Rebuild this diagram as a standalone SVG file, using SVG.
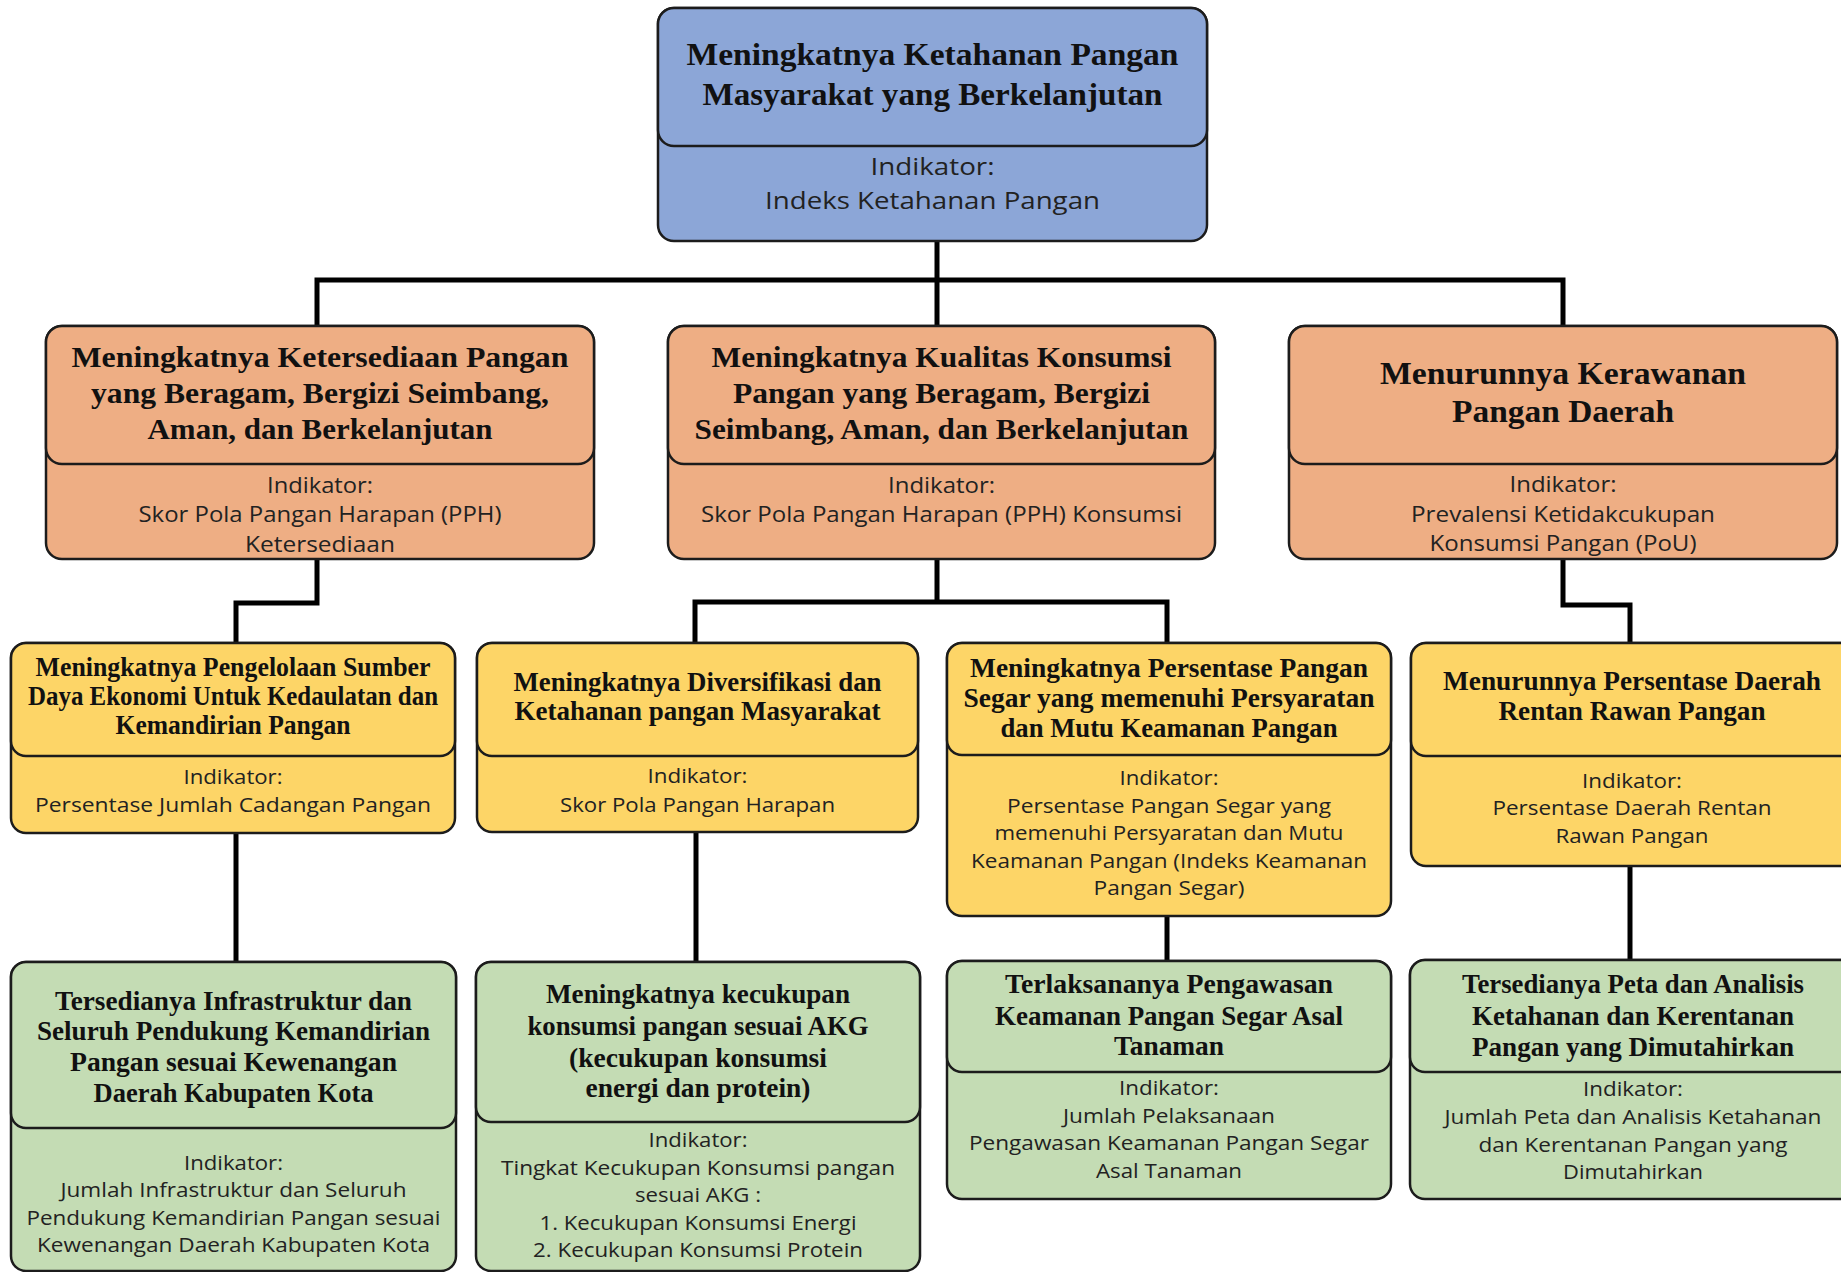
<svg xmlns="http://www.w3.org/2000/svg" width="1841" height="1272" viewBox="0 0 1841 1272">
<style>
.bg{fill:#ffffff}
.box{stroke:#1c1c1c;stroke-width:2.5}
.blue{fill:#8CA6D7}
.orange{fill:#EEAE84}
.yellow{fill:#FDD567}
.green{fill:#C4DCB4}
.t{font-family:"Liberation Serif","DejaVu Serif",serif;font-weight:bold;fill:#111111;text-anchor:middle}
.b{font-family:"Open Sans","Noto Sans","Liberation Sans",sans-serif;fill:#222222;text-anchor:middle}
.t31{font-size:31px}.t30{font-size:30px}.t32{font-size:32px}.t27{font-size:27px}
.b24{font-size:24px}.b21{font-size:21px}.b20{font-size:20px}
.conn{fill:none;stroke:#000000;stroke-width:5;stroke-linejoin:miter;stroke-linecap:butt}
</style>
<rect class="bg" x="0" y="0" width="1841" height="1272"/>

<g id="connectors">
<path class="conn" d="M937,241 V326 M317,326 V280 H1563 V326"/>
<path class="conn" d="M317,559 V603 H236 V643"/>
<path class="conn" d="M937,559 V602 M695,643 V602 H1167 V643"/>
<path class="conn" d="M1563,559 V605 H1630 V643"/>
<path class="conn" d="M236,833 V962"/>
<path class="conn" d="M696,832 V962"/>
<path class="conn" d="M1167,916 V961"/>
<path class="conn" d="M1630,866 V960"/>
</g>

<g id="node-top">
<rect class="box blue" x="658" y="8" width="549" height="233" rx="16"/>
<rect class="box blue" x="658" y="8" width="549" height="138" rx="16"/>
<text class="t t31" x="932.5" y="65" textLength="492" lengthAdjust="spacingAndGlyphs">Meningkatnya Ketahanan Pangan</text>
<text class="t t31" x="932.5" y="105" textLength="460" lengthAdjust="spacingAndGlyphs">Masyarakat yang Berkelanjutan</text>
<text class="b b24" x="932.5" y="175" textLength="124" lengthAdjust="spacingAndGlyphs">Indikator:</text>
<text class="b b24" x="932.5" y="209" textLength="335" lengthAdjust="spacingAndGlyphs">Indeks Ketahanan Pangan</text>
</g>

<g id="node-l2-ketersediaan">
<rect class="box orange" x="46" y="326" width="548" height="233" rx="16"/>
<rect class="box orange" x="46" y="326" width="548" height="138" rx="16"/>
<text class="t t30" x="320" y="367" textLength="497" lengthAdjust="spacingAndGlyphs">Meningkatnya Ketersediaan Pangan</text>
<text class="t t30" x="320" y="403" textLength="458" lengthAdjust="spacingAndGlyphs">yang Beragam, Bergizi Seimbang,</text>
<text class="t t30" x="320" y="439" textLength="345" lengthAdjust="spacingAndGlyphs">Aman, dan Berkelanjutan</text>
<text class="b b21" x="320" y="493" textLength="106" lengthAdjust="spacingAndGlyphs">Indikator:</text>
<text class="b b21" x="320" y="522" textLength="363" lengthAdjust="spacingAndGlyphs">Skor Pola Pangan Harapan (PPH)</text>
<text class="b b21" x="320" y="552" textLength="150" lengthAdjust="spacingAndGlyphs">Ketersediaan</text>
</g>

<g id="node-l2-konsumsi">
<rect class="box orange" x="668" y="326" width="547" height="233" rx="16"/>
<rect class="box orange" x="668" y="326" width="547" height="138" rx="16"/>
<text class="t t30" x="941.5" y="367" textLength="460" lengthAdjust="spacingAndGlyphs">Meningkatnya Kualitas Konsumsi</text>
<text class="t t30" x="941.5" y="403" textLength="417" lengthAdjust="spacingAndGlyphs">Pangan yang Beragam, Bergizi</text>
<text class="t t30" x="941.5" y="439" textLength="494" lengthAdjust="spacingAndGlyphs">Seimbang, Aman, dan Berkelanjutan</text>
<text class="b b21" x="941.5" y="493" textLength="107" lengthAdjust="spacingAndGlyphs">Indikator:</text>
<text class="b b21" x="941.5" y="522" textLength="481" lengthAdjust="spacingAndGlyphs">Skor Pola Pangan Harapan (PPH) Konsumsi</text>
</g>

<g id="node-l2-kerawanan">
<rect class="box orange" x="1289" y="326" width="548" height="233" rx="16"/>
<rect class="box orange" x="1289" y="326" width="548" height="138" rx="16"/>
<text class="t t32" x="1563" y="384" textLength="366" lengthAdjust="spacingAndGlyphs">Menurunnya Kerawanan</text>
<text class="t t32" x="1563" y="422" textLength="222" lengthAdjust="spacingAndGlyphs">Pangan Daerah</text>
<text class="b b21" x="1563" y="492" textLength="107" lengthAdjust="spacingAndGlyphs">Indikator:</text>
<text class="b b21" x="1563" y="522" textLength="304" lengthAdjust="spacingAndGlyphs">Prevalensi Ketidakcukupan</text>
<text class="b b21" x="1563" y="551" textLength="267" lengthAdjust="spacingAndGlyphs">Konsumsi Pangan (PoU)</text>
</g>

<g id="node-y1">
<rect class="box yellow" x="11" y="643" width="444" height="190" rx="15"/>
<rect class="box yellow" x="11" y="643" width="444" height="113" rx="15"/>
<text class="t t27" x="233" y="676" textLength="395" lengthAdjust="spacingAndGlyphs">Meningkatnya Pengelolaan Sumber</text>
<text class="t t27" x="233" y="705" textLength="410" lengthAdjust="spacingAndGlyphs">Daya Ekonomi Untuk Kedaulatan dan</text>
<text class="t t27" x="233" y="734" textLength="235" lengthAdjust="spacingAndGlyphs">Kemandirian Pangan</text>
<text class="b b20" x="233" y="784" textLength="99" lengthAdjust="spacingAndGlyphs">Indikator:</text>
<text class="b b20" x="233" y="812" textLength="396" lengthAdjust="spacingAndGlyphs">Persentase Jumlah Cadangan Pangan</text>
</g>

<g id="node-y2">
<rect class="box yellow" x="477" y="643" width="441" height="189" rx="15"/>
<rect class="box yellow" x="477" y="643" width="441" height="113" rx="15"/>
<text class="t t27" x="697.5" y="691" textLength="368" lengthAdjust="spacingAndGlyphs">Meningkatnya Diversifikasi dan</text>
<text class="t t27" x="697.5" y="720" textLength="366" lengthAdjust="spacingAndGlyphs">Ketahanan pangan Masyarakat</text>
<text class="b b20" x="697.5" y="783" textLength="100" lengthAdjust="spacingAndGlyphs">Indikator:</text>
<text class="b b20" x="697.5" y="812" textLength="275" lengthAdjust="spacingAndGlyphs">Skor Pola Pangan Harapan</text>
</g>

<g id="node-y3">
<rect class="box yellow" x="947" y="643" width="444" height="273" rx="15"/>
<rect class="box yellow" x="947" y="643" width="444" height="112" rx="15"/>
<text class="t t27" x="1169" y="677" textLength="398" lengthAdjust="spacingAndGlyphs">Meningkatnya Persentase Pangan</text>
<text class="t t27" x="1169" y="707" textLength="411" lengthAdjust="spacingAndGlyphs">Segar yang memenuhi Persyaratan</text>
<text class="t t27" x="1169" y="737" textLength="337" lengthAdjust="spacingAndGlyphs">dan Mutu Keamanan Pangan</text>
<text class="b b20" x="1169" y="785" textLength="99" lengthAdjust="spacingAndGlyphs">Indikator:</text>
<text class="b b20" x="1169" y="813" textLength="324" lengthAdjust="spacingAndGlyphs">Persentase Pangan Segar yang</text>
<text class="b b20" x="1169" y="840" textLength="349" lengthAdjust="spacingAndGlyphs">memenuhi Persyaratan dan Mutu</text>
<text class="b b20" x="1169" y="868" textLength="396" lengthAdjust="spacingAndGlyphs">Keamanan Pangan (Indeks Keamanan</text>
<text class="b b20" x="1169" y="895" textLength="151" lengthAdjust="spacingAndGlyphs">Pangan Segar)</text>
</g>

<g id="node-y4">
<rect class="box yellow" x="1411" y="643" width="444" height="223" rx="15"/>
<rect class="box yellow" x="1411" y="643" width="444" height="113" rx="15"/>
<text class="t t27" x="1632" y="690" textLength="378" lengthAdjust="spacingAndGlyphs">Menurunnya Persentase Daerah</text>
<text class="t t27" x="1632" y="720" textLength="267" lengthAdjust="spacingAndGlyphs">Rentan Rawan Pangan</text>
<text class="b b20" x="1632" y="788" textLength="100" lengthAdjust="spacingAndGlyphs">Indikator:</text>
<text class="b b20" x="1632" y="815" textLength="279" lengthAdjust="spacingAndGlyphs">Persentase Daerah Rentan</text>
<text class="b b20" x="1632" y="843" textLength="153" lengthAdjust="spacingAndGlyphs">Rawan Pangan</text>
</g>

<g id="node-g1">
<rect class="box green" x="11" y="962" width="445" height="309" rx="15"/>
<rect class="box green" x="11" y="962" width="445" height="166" rx="15"/>
<text class="t t27" x="233.5" y="1010" textLength="357" lengthAdjust="spacingAndGlyphs">Tersedianya Infrastruktur dan</text>
<text class="t t27" x="233.5" y="1040" textLength="393" lengthAdjust="spacingAndGlyphs">Seluruh Pendukung Kemandirian</text>
<text class="t t27" x="233.5" y="1071" textLength="327" lengthAdjust="spacingAndGlyphs">Pangan sesuai Kewenangan</text>
<text class="t t27" x="233.5" y="1102" textLength="280" lengthAdjust="spacingAndGlyphs">Daerah Kabupaten Kota</text>
<text class="b b20" x="233.5" y="1170" textLength="99" lengthAdjust="spacingAndGlyphs">Indikator:</text>
<text class="b b20" x="233.5" y="1197" textLength="346" lengthAdjust="spacingAndGlyphs">Jumlah Infrastruktur dan Seluruh</text>
<text class="b b20" x="233.5" y="1225" textLength="414" lengthAdjust="spacingAndGlyphs">Pendukung Kemandirian Pangan sesuai</text>
<text class="b b20" x="233.5" y="1252" textLength="393" lengthAdjust="spacingAndGlyphs">Kewenangan Daerah Kabupaten Kota</text>
</g>

<g id="node-g2">
<rect class="box green" x="476" y="962" width="444" height="309" rx="15"/>
<rect class="box green" x="476" y="962" width="444" height="160" rx="15"/>
<text class="t t27" x="698" y="1003" textLength="304" lengthAdjust="spacingAndGlyphs">Meningkatnya kecukupan</text>
<text class="t t27" x="698" y="1035" textLength="341" lengthAdjust="spacingAndGlyphs">konsumsi pangan sesuai AKG</text>
<text class="t t27" x="698" y="1067" textLength="258" lengthAdjust="spacingAndGlyphs">(kecukupan konsumsi</text>
<text class="t t27" x="698" y="1097" textLength="225" lengthAdjust="spacingAndGlyphs">energi dan protein)</text>
<text class="b b20" x="698" y="1147" textLength="99" lengthAdjust="spacingAndGlyphs">Indikator:</text>
<text class="b b20" x="698" y="1175" textLength="394" lengthAdjust="spacingAndGlyphs">Tingkat Kecukupan Konsumsi pangan</text>
<text class="b b20" x="698" y="1202" textLength="126" lengthAdjust="spacingAndGlyphs">sesuai AKG :</text>
<text class="b b20" x="698" y="1230" textLength="317" lengthAdjust="spacingAndGlyphs">1. Kecukupan Konsumsi Energi</text>
<text class="b b20" x="698" y="1257" textLength="330" lengthAdjust="spacingAndGlyphs">2. Kecukupan Konsumsi Protein</text>
</g>

<g id="node-g3">
<rect class="box green" x="947" y="961" width="444" height="238" rx="15"/>
<rect class="box green" x="947" y="961" width="444" height="111" rx="15"/>
<text class="t t27" x="1169" y="993" textLength="328" lengthAdjust="spacingAndGlyphs">Terlaksananya Pengawasan</text>
<text class="t t27" x="1169" y="1025" textLength="348" lengthAdjust="spacingAndGlyphs">Keamanan Pangan Segar Asal</text>
<text class="t t27" x="1169" y="1055" textLength="110" lengthAdjust="spacingAndGlyphs">Tanaman</text>
<text class="b b20" x="1169" y="1095" textLength="100" lengthAdjust="spacingAndGlyphs">Indikator:</text>
<text class="b b20" x="1169" y="1123" textLength="212" lengthAdjust="spacingAndGlyphs">Jumlah Pelaksanaan</text>
<text class="b b20" x="1169" y="1150" textLength="400" lengthAdjust="spacingAndGlyphs">Pengawasan Keamanan Pangan Segar</text>
<text class="b b20" x="1169" y="1178" textLength="146" lengthAdjust="spacingAndGlyphs">Asal Tanaman</text>
</g>

<g id="node-g4">
<rect class="box green" x="1410" y="960" width="445" height="239" rx="15"/>
<rect class="box green" x="1410" y="960" width="445" height="112" rx="15"/>
<text class="t t27" x="1633" y="993" textLength="342" lengthAdjust="spacingAndGlyphs">Tersedianya Peta dan Analisis</text>
<text class="t t27" x="1633" y="1025" textLength="322" lengthAdjust="spacingAndGlyphs">Ketahanan dan Kerentanan</text>
<text class="t t27" x="1633" y="1056" textLength="322" lengthAdjust="spacingAndGlyphs">Pangan yang Dimutahirkan</text>
<text class="b b20" x="1633" y="1096" textLength="100" lengthAdjust="spacingAndGlyphs">Indikator:</text>
<text class="b b20" x="1633" y="1124" textLength="377" lengthAdjust="spacingAndGlyphs">Jumlah Peta dan Analisis Ketahanan</text>
<text class="b b20" x="1633" y="1152" textLength="309" lengthAdjust="spacingAndGlyphs">dan Kerentanan Pangan yang</text>
<text class="b b20" x="1633" y="1179" textLength="140" lengthAdjust="spacingAndGlyphs">Dimutahirkan</text>
</g>
</svg>
